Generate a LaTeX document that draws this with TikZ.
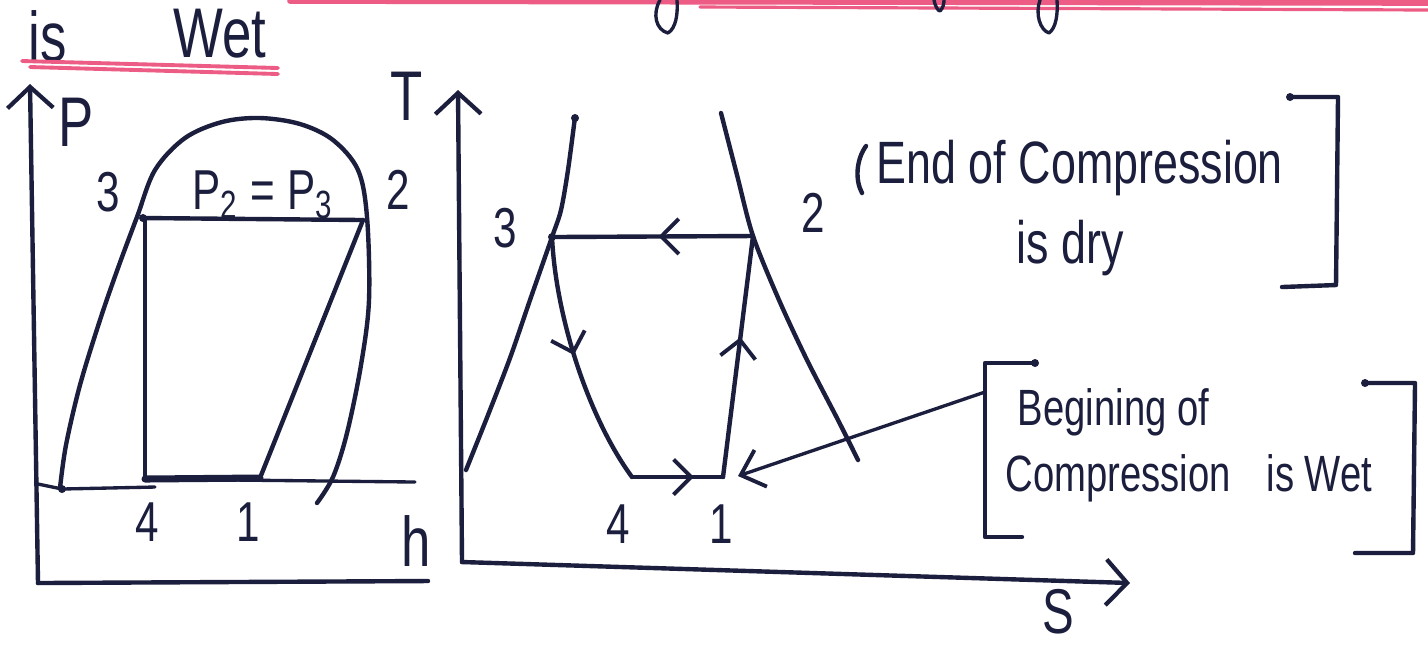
\documentclass[tikz,border=0pt]{standalone}
\usepackage{fontspec}
\setmainfont{Liberation Sans}
\newfontfamily\hand[FakeStretch=0.75]{Liberation Sans}
\usetikzlibrary{arrows.meta,decorations.markings}
\definecolor{ink}{HTML}{1B1E3C}
\definecolor{redink}{HTML}{EC5C84}
\begin{document}
\begin{tikzpicture}[x=0.01cm,y=-0.01cm, line cap=round, line join=round,
  pen/.style={draw=ink, line width=1.25pt},
  thinpen/.style={draw=ink, line width=0.95pt},
  lbl/.style={text=ink, font=\hand\fontsize{16}{18}\selectfont, inner sep=0pt},
  bignote/.style={text=ink, font=\hand\fontsize{17}{30}\selectfont, inner sep=0pt, align=center},
  smallnote/.style={text=ink, font=\hand\fontsize{14.5}{26}\selectfont, inner sep=0pt, align=left},
  axtip/.style={-{Straight Barb[length=6pt,width=13pt,line width=1.2pt]}},
  midarrow/.style={postaction={decorate},decoration={markings,
     mark=at position #1 with {\arrow[ink,line width=1.1pt]{Straight Barb[length=5pt,width=10pt]}}}}
]
\useasboundingbox (0,0) rectangle (1428,644);
\fill[white] (0,0) rectangle (1428,644);

% top red lines and cut-off letters
\draw[redink, line width=1.6pt] (290,1) -- (1428,3);
\draw[redink, line width=0.9pt] (700,7) -- (1428,10);
\draw[thinpen] (660,0) .. controls (652,14) and (656,30) .. (668,33) .. controls (676,28) and (678,14) .. (677,0);
\draw[thinpen] (934,0) .. controls (935,6) and (938,11) .. (940,11) .. controls (943,8) and (944,4) .. (944,0);
\draw[thinpen] (1040,0) .. controls (1035,14) and (1040,30) .. (1049,33) .. controls (1056,28) and (1058,14) .. (1057,0);

% heading
\node[lbl, font=\hand\fontsize{20}{22}\selectfont] (is) at (48,36) {is};
\node[lbl, font=\hand\fontsize{20}{22}\selectfont] (wet) at (220,34) {Wet};
\draw[redink, line width=1.1pt] (22,61) -- (278,68);
\draw[redink, line width=1.1pt] (30,67) -- (278,74);

% ---------------- P-h diagram ----------------
\coordinate (Po) at (38,583);
\coordinate (Ptop) at (30,84);
\coordinate (hend) at (428,581);
\draw[pen, axtip] (Po) -- (Ptop);
\draw[pen] (Po) -- (hend);
\node[lbl, font=\hand\fontsize{20}{22}\selectfont] (Plab) at (76,122) {P};
\node[lbl, font=\hand\fontsize{20}{22}\selectfont] (hlab) at (416,541) {h};

\draw[pen] plot[smooth, tension=0.55] coordinates {(60,488) (66,445) (80,385) (100,320) (118,268) (137,217) (155,170) (185,138) (222,122) (260,118) (300,124) (333,140) (358,170) (367,217) (369,300) (361,365) (347,433) (333,477) (317,503)};

\coordinate (P3) at (143,218);
\coordinate (P2) at (363,220);
\coordinate (P4) at (145,479);
\coordinate (P1) at (260,478);
\coordinate (Pb0) at (38,484);
\coordinate (Pb1) at (62,489);
\coordinate (Pb2) at (155,487);
\coordinate (Pb3) at (415,482);
\draw[pen] (P3) -- (P2);
\draw[pen] (P3 -| P4) -- (P4);
\draw[pen] (P2) -- (P1);
\draw[thinpen] (Pb0) -- (Pb1) -- (Pb2);
\draw[thinpen] (P4) -- (Pb3);
\draw[ink, line width=2pt] (P4) -- (P1);
\fill[ink] (P3) circle (4);
\fill[ink] (Pb1) circle (4);

\node[lbl] (l3a) at (108,192) {3};
\node[lbl] (l2a) at (398,190) {2};
\node[lbl] (peq) at (263,195) {P\textsubscript{2} = P\textsubscript{3}};
\node[lbl] (l4a) at (147,522) {4};
\node[lbl] (l1a) at (248,522) {1};

% ---------------- T-s diagram ----------------
\coordinate (To) at (462,562);
\coordinate (Ttop) at (458,90);
\coordinate (send) at (1130,583);
\draw[pen, axtip] (To) -- (Ttop);
\draw[pen, axtip] (To) -- (send);
\node[lbl, font=\hand\fontsize{20}{22}\selectfont] (Tlab) at (407,96) {T};
\node[lbl, font=\hand\fontsize{18}{20}\selectfont] (slab) at (1058,612) {S};

\coordinate (T3) at (552,237);
\coordinate (T2) at (753,236);
\coordinate (T4) at (632,477);
\coordinate (T1) at (723,477);

\draw[pen] plot[smooth, tension=0.5] coordinates {(575,117) (568,170) (561,210) (552,237) (530,300) (510,358) (488,415) (466,470)};
\draw[pen] plot[smooth, tension=0.5] coordinates {(721,113) (737,175) (753,236) (779,300) (807,360) (838,420) (858,460)};
\fill[ink] (575,118) circle (4);
\fill[ink] (T3) circle (4);

\draw[pen, midarrow=0.47] (T2) -- (T3);
\draw[pen, midarrow=0.47] (T3) .. controls (556,320) and (590,420) .. (T4);
\draw[pen, midarrow=0.68] (T4) -- (T1);
\draw[pen, midarrow=0.58] (T1) -- (T2);

\node[lbl] (l3b) at (505,228) {3};
\node[lbl] (l2b) at (813,213) {2};
\node[lbl] (l4b) at (618,524) {4};
\node[lbl] (l1b) at (721,524) {1};

% ---------------- annotations ----------------
% End of compression is dry
\draw[pen] (866,146) .. controls (856,160) and (855,180) .. (862,193);
\node[bignote, anchor=west] (endnote) at (876,168) {End of Compression};
\node[bignote] (drynote) at (1070,248) {is dry};
\draw[pen] (1290,97) -- (1338,97) -- (1336,285) -- (1282,287);
\fill[ink] (1290,97) circle (4);

% Begining of compression is wet
\coordinate (brk) at (985,392);
\draw[pen] (1035,363) -- (985,363) -- (985,537) -- (1022,537);
\fill[ink] (1035,363) circle (4);
\draw[pen] (1365,383) -- (1415,383) -- (1413,553) -- (1355,553);
\fill[ink] (1365,383) circle (4);
\node[smallnote, anchor=west] (beg1) at (1017,412) {Begining of};
\node[smallnote, anchor=west] (beg2) at (1005,478) {Compression\hspace{0.7em}is Wet};
\draw[thinpen, -{Straight Barb[length=6pt,width=11pt,line width=1.1pt]}] (brk) -- (738,476);
\end{tikzpicture}
\end{document}
